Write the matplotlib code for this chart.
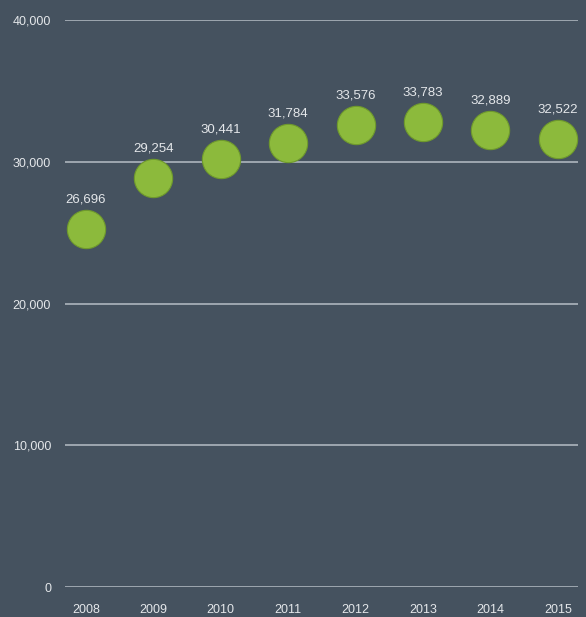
import matplotlib
matplotlib.use("Agg")
import matplotlib.pyplot as plt

plt.rcParams['font.family'] = ['Liberation Sans', 'DejaVu Sans']

years = ["2008", "2009", "2010", "2011", "2012", "2013", "2014", "2015"]
# printed values above each circle
values = [26696, 29254, 30441, 31784, 33576, 33783, 32889, 32522]
# circle heights as drawn in the original graphic
circle_y = [25250, 28850, 30200, 31320, 32590, 32800, 32240, 31600]
y_ticks = [0, 10000, 20000, 30000, 40000]

bg = "#45525f"
green = "#8cba3c"
text_col = "#e4e7ea"

fig = plt.figure(figsize=(5.86, 6.17), dpi=100, facecolor=bg)
ax = fig.add_axes([0.1109, 0.0486, 0.8754, 0.919])
ax.set_facecolor(bg)

x = list(range(len(years)))

for t in y_ticks:
    ax.axhline(t, color="#9ea7b0", linewidth=1.4, zorder=1)

ax.scatter(x, circle_y, s=760, color=green, edgecolors="#6f9a2c",
           linewidths=0.8, zorder=3)

for xi, yi, v in zip(x, circle_y, values):
    ax.annotate(f"{v:,}", (xi, yi), xytext=(0, 21), textcoords="offset points",
                ha="center", va="center", color=text_col, fontsize=9.5)

ax.set_xlim(-0.311, 7.30)
ax.set_ylim(0, 40000)
ax.set_xticks(x)
ax.set_xticklabels(years)
ax.set_yticks(y_ticks)
ax.set_yticklabels([f"{t:,}" for t in y_ticks])
ax.tick_params(axis="both", length=0, colors=text_col, labelsize=9)
ax.tick_params(axis="x", pad=12)
ax.tick_params(axis="y", pad=10)
for s in ax.spines.values():
    s.set_visible(False)

fig.savefig("out.png", dpi=100, facecolor=bg)
